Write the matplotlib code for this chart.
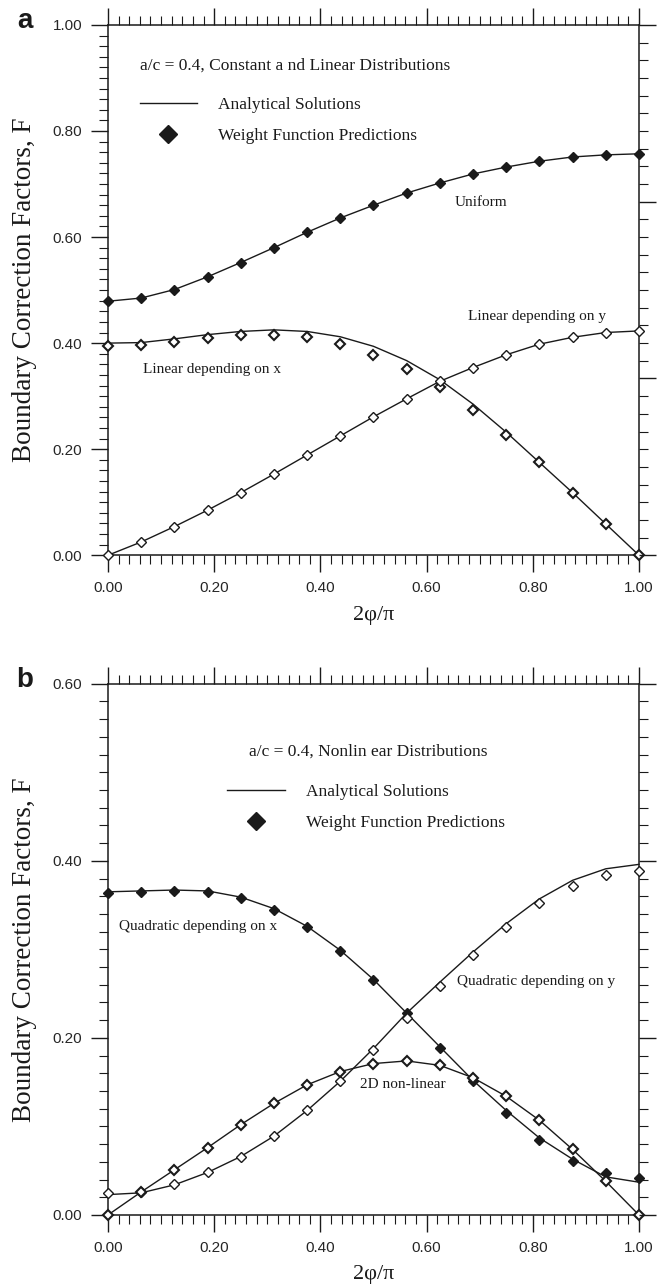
"""
Boundary correction factors for a/c = 0.4
two stacked panels, analytical curves vs weight function points
"""
import matplotlib
matplotlib.use('Agg')
from matplotlib import pyplot as plt
from matplotlib.ticker import MultipleLocator, FormatStrFormatter
from matplotlib.lines import Line2D

plt.rcParams['font.family'] = ['Liberation Sans', 'DejaVu Sans']
SERIF = ['Liberation Serif', 'DejaVu Serif']

# x positions, 2phi/pi
x = [0.0, 0.0625, 0.125, 0.1875, 0.25, 0.3125, 0.375, 0.4375, 0.5,
     0.5625, 0.625, 0.6875, 0.75, 0.8125, 0.875, 0.9375, 1.0]

# panel a - constant and linear distributions
uniform_pts = [0.479, 0.485, 0.501, 0.525, 0.552, 0.580, 0.609, 0.636, 0.660,
               0.683, 0.702, 0.719, 0.732, 0.743, 0.751, 0.755, 0.757]
uniform_line = [0.479, 0.485, 0.501, 0.525, 0.552, 0.580, 0.609, 0.636, 0.660,
                0.683, 0.702, 0.719, 0.732, 0.743, 0.751, 0.755, 0.757]
linx_pts = [0.395, 0.397, 0.403, 0.410, 0.416, 0.416, 0.411, 0.399, 0.378,
            0.351, 0.317, 0.274, 0.227, 0.175, 0.118, 0.059, 0.0]
linx_line = [0.400, 0.401, 0.408, 0.416, 0.422, 0.425, 0.422, 0.412, 0.394,
             0.367, 0.331, 0.285, 0.232, 0.175, 0.118, 0.059, 0.0]
liny_pts = [0.0, 0.025, 0.054, 0.085, 0.118, 0.153, 0.189, 0.225, 0.261,
            0.295, 0.328, 0.354, 0.378, 0.398, 0.411, 0.420, 0.423]
liny_line = [0.0, 0.025, 0.054, 0.085, 0.118, 0.153, 0.189, 0.225, 0.261,
             0.295, 0.328, 0.354, 0.378, 0.398, 0.411, 0.420, 0.423]

# panel b - nonlinear distributions
quadx_pts = [0.364, 0.365, 0.366, 0.365, 0.358, 0.345, 0.325, 0.298, 0.265,
             0.228, 0.189, 0.151, 0.115, 0.085, 0.061, 0.047, 0.042]
quadx_line = [0.365, 0.366, 0.367, 0.366, 0.359, 0.346, 0.326, 0.299, 0.266,
              0.228, 0.190, 0.152, 0.118, 0.087, 0.063, 0.043, 0.037]
quady_pts = [0.025, 0.026, 0.035, 0.048, 0.066, 0.089, 0.118, 0.151, 0.186,
             0.223, 0.259, 0.294, 0.325, 0.352, 0.371, 0.384, 0.388]
quady_line = [0.023, 0.025, 0.034, 0.048, 0.066, 0.089, 0.118, 0.151, 0.188,
              0.228, 0.263, 0.297, 0.329, 0.357, 0.378, 0.391, 0.396]
nl2d_pts = [0.0, 0.026, 0.051, 0.076, 0.102, 0.126, 0.147, 0.162, 0.171,
            0.174, 0.169, 0.155, 0.134, 0.107, 0.074, 0.038, 0.0]
nl2d_line = [0.0, 0.026, 0.051, 0.076, 0.102, 0.126, 0.147, 0.162, 0.171,
             0.174, 0.169, 0.155, 0.134, 0.107, 0.074, 0.038, 0.0]

INK = '#1a1a1a'


def style_axes(ax, ymax, right_major, right_minor):
    ax.set_xlim(0, 1)
    ax.set_ylim(0, ymax)
    ax.xaxis.set_major_locator(MultipleLocator(0.2))
    ax.xaxis.set_minor_locator(MultipleLocator(0.02))
    ax.yaxis.set_major_locator(MultipleLocator(0.2))
    ax.yaxis.set_minor_locator(MultipleLocator(0.02))
    ax.xaxis.set_major_formatter(FormatStrFormatter('%.2f'))
    ax.yaxis.set_major_formatter(FormatStrFormatter('%.2f'))
    ax.tick_params(which='both', direction='out', top=True, bottom=True,
                   left=True, right=False, color=INK, labelcolor='#262626',
                   labelsize=11)
    ax.tick_params(which='major', length=12.5, width=1.0, pad=6)
    ax.tick_params(which='minor', length=6.3, width=0.8)
    for s in ax.spines.values():
        s.set_linewidth(1.1)
        s.set_color(INK)

    # right side has its own tick spacing
    tw = ax.twinx()
    tw.set_ylim(0, ymax)
    tw.yaxis.set_major_locator(MultipleLocator(right_major))
    tw.yaxis.set_minor_locator(MultipleLocator(right_minor))
    tw.tick_params(axis='y', which='both', direction='out', labelright=False,
                   color=INK)
    tw.tick_params(axis='y', which='major', length=12.5, width=1.0)
    tw.tick_params(axis='y', which='minor', length=6.3, width=0.8)
    for s in tw.spines.values():
        s.set_visible(False)


def curve(ax, xs, line, pts, face, mew):
    ax.plot(xs, line, color=INK, lw=1.0, zorder=2, clip_on=False)
    ax.plot(xs, pts, linestyle='none', marker='D', ms=4.6, mfc=face,
            mec=INK, mew=mew, zorder=3, clip_on=False)


def legend_block(ax, title, tx, ty, lx, ly):
    ax.text(tx, ty, title, transform=ax.transAxes, family=SERIF, fontsize=12.5,
            ha='left', va='center', color=INK)
    handles = [Line2D([], [], color=INK, lw=1.0),
               Line2D([], [], linestyle='none', marker='D', ms=9.5,
                      color=INK)]
    leg = ax.legend(handles, ['Analytical Solutions', 'Weight Function Predictions'],
                    loc='center left', bbox_to_anchor=(lx, ly), frameon=False,
                    borderpad=0, borderaxespad=0, handlelength=3.3,
                    handletextpad=1.2, labelspacing=0.85,
                    prop={'family': SERIF, 'size': 12.5})
    for t in leg.get_texts():
        t.set_color(INK)


fig = plt.figure(figsize=(6.69, 12.85), dpi=100)

# ---- panel a ----
ax1 = fig.add_axes([0.1614, 0.5679, 0.7937, 0.4127])
style_axes(ax1, 1.0, 1 / 3, 1 / 30)
curve(ax1, x, uniform_line, uniform_pts, INK, 1.0)
curve(ax1, x, linx_line, linx_pts, 'white', 1.5)
curve(ax1, x, liny_line, liny_pts, 'white', 1.0)
legend_block(ax1, 'a/c = 0.4, Constant a nd Linear Distributions',
             0.06, 0.924, 0.06, 0.8205)
ax1.text(0.702, 0.666, 'Uniform', family=SERIF, fontsize=11, ha='center',
         va='center', color=INK)
ax1.text(0.808, 0.450, 'Linear depending on y', family=SERIF, fontsize=11,
         ha='center', va='center', color=INK)
ax1.text(0.196, 0.351, 'Linear depending on x', family=SERIF, fontsize=11,
         ha='center', va='center', color=INK)
ax1.text(-0.158, 0.5, 'Boundary Correction Factors, F', transform=ax1.transAxes,
         rotation=90, family=SERIF, fontsize=19.5, ha='center', va='center',
         color=INK)
ax1.text(0.5, -0.1145, '2\u03c6/\u03c0', transform=ax1.transAxes, family=SERIF,
         fontsize=16, ha='center', va='center', color=INK)

# ---- panel b ----
ax2 = fig.add_axes([0.1614, 0.0545, 0.7937, 0.4134])
style_axes(ax2, 0.6, 0.2, 0.02)
curve(ax2, x, quadx_line, quadx_pts, INK, 1.0)
curve(ax2, x, quady_line, quady_pts, 'white', 1.0)
curve(ax2, x, nl2d_line, nl2d_pts, 'white', 1.5)
legend_block(ax2, 'a/c = 0.4, Nonlin ear Distributions',
             0.265, 0.873, 0.225, 0.7675)
ax2.text(0.170, 0.326, 'Quadratic depending on x', family=SERIF, fontsize=11,
         ha='center', va='center', color=INK)
ax2.text(0.806, 0.264, 'Quadratic depending on y', family=SERIF, fontsize=11,
         ha='center', va='center', color=INK)
ax2.text(0.555, 0.147, '2D non-linear', family=SERIF, fontsize=11,
         ha='center', va='center', color=INK)
ax2.text(-0.158, 0.5, 'Boundary Correction Factors, F', transform=ax2.transAxes,
         rotation=90, family=SERIF, fontsize=19.5, ha='center', va='center',
         color=INK)
ax2.text(0.5, -0.113, '2\u03c6/\u03c0', transform=ax2.transAxes, family=SERIF,
         fontsize=16, ha='center', va='center', color=INK)

# panel letters
fig.text(24.5 / 669, 1 - 21 / 1285, 'a', fontsize=20, fontweight='bold',
         ha='center', va='center', color=INK)
fig.text(24.5 / 669, 1 - 680 / 1285, 'b', fontsize=20, fontweight='bold',
         ha='center', va='center', color=INK)

fig.savefig('out.png', dpi=100)
